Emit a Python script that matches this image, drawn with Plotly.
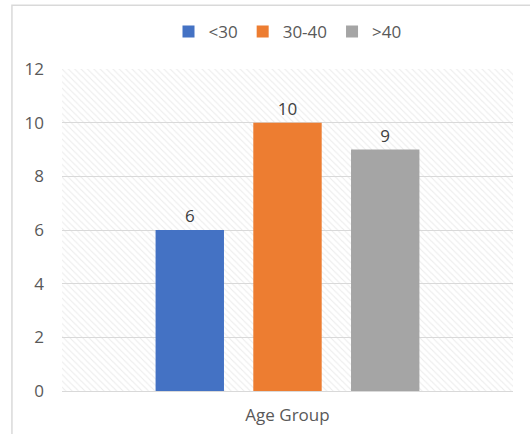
import plotly.graph_objects as go

categories = ["Age Group"]
series_names = ["<30", "30-40", ">40"]
series_values = [[6], [10], [9]]
colors = ["#4472C4", "#ED7D31", "#A5A5A5"]
y_ticks = [0, 2, 4, 6, 8, 10, 12]

fig = go.Figure()

# hatched plot-area background on the base axes (drawn beneath the bars)
fig.add_trace(go.Bar(
    x=categories, y=[y_ticks[-1]], width=[1], xaxis="x", yaxis="y",
    marker=dict(color="rgba(0,0,0,0)", line=dict(width=0),
                pattern=dict(shape="\\", size=4.5, solidity=0.25,
                             fgcolor="#d9d9d9", bgcolor="rgba(0,0,0,0)", fillmode="overlay")),
    showlegend=False, hoverinfo="skip",
))

for name, vals, col in zip(series_names, series_values, colors):
    fig.add_trace(go.Bar(
        x=categories, y=vals, name=name, xaxis="x2", yaxis="y2",
        marker=dict(color=col, line=dict(width=0)),
        text=[str(v) for v in vals], textposition="outside",
        textfont=dict(size=17, color="#404040"), cliponaxis=False,
    ))

fig.update_layout(
    width=530, height=434,
    margin=dict(l=62, r=17, t=69, b=43, autoexpand=False),
    paper_bgcolor="white", plot_bgcolor="white",
    font=dict(family="Open Sans, Calibri, sans-serif", size=17, color="#595959"),
    barmode="group", bargap=0.35, bargroupgap=0.3,
    legend=dict(orientation="h", x=0.5, xanchor="center", y=1.115, yanchor="middle",
                font=dict(size=17, color="#595959"), itemwidth=30, traceorder="normal",
                bgcolor="rgba(0,0,0,0)"),
    xaxis=dict(type="category", showgrid=False, showline=True, linecolor="#d9d9d9", linewidth=1,
               ticks="", tickfont=dict(size=17, color="#595959"), automargin=False,
               ticklabelstandoff=9),
    yaxis=dict(range=[0, 12], tickvals=y_ticks, showgrid=True, gridcolor="#d9d9d9",
               gridwidth=1, zeroline=False, showline=False, ticks="",
               tickfont=dict(size=17, color="#595959"), ticklabelstandoff=17, automargin=False),
    xaxis2=dict(type="category", overlaying="x", visible=False, fixedrange=True),
    yaxis2=dict(overlaying="y", range=[0, 12], visible=False, fixedrange=True),
    shapes=[dict(type="rect", xref="paper", yref="paper",
                 x0=-0.111, x1=1.1, y0=-0.2, y1=1.198,
                 line=dict(color="#d9d9d9", width=1.5), fillcolor="rgba(0,0,0,0)", layer="above")],
)

fig.write_html("out.html", config={"displayModeBar": False},
               post_script="document.body.style.margin='0';document.body.style.overflow='hidden';")
